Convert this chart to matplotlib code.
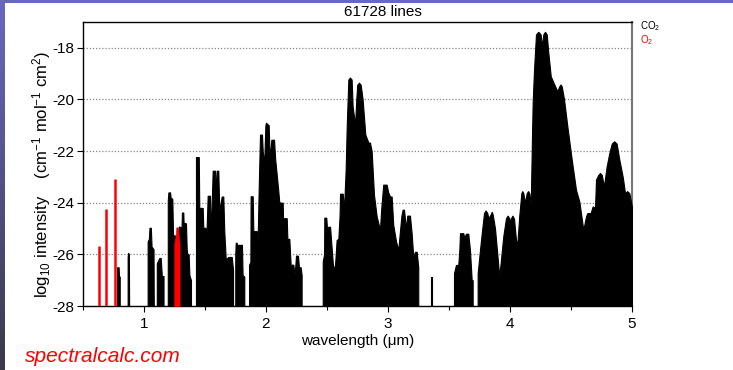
import numpy as np
import matplotlib
matplotlib.use("Agg")
import matplotlib.pyplot as plt
from matplotlib.patches import Rectangle
from matplotlib.ticker import MultipleLocator

plt.rcParams['font.family'] = ['Liberation Sans', 'DejaVu Sans']
plt.rcParams['mathtext.fontset'] = 'custom'
plt.rcParams['mathtext.rm'] = 'Liberation Sans'
plt.rcParams['mathtext.it'] = 'Liberation Sans:italic'
plt.rcParams['mathtext.bf'] = 'Liberation Sans:bold'

# ---------------- data (wavelength in um, log10 intensity) ----------------
title_text = "61728 lines"
x_ticks = [1, 2, 3, 4, 5]
y_ticks = [-28, -26, -24, -22, -20, -18]

# CO2 band envelopes
co2_b1_wl = [0.780, 0.780, 0.792, 0.795, 0.801, 0.801]
co2_b1_val = [-28, -26.50, -26.50, -26.86, -26.86, -28]

co2_b2_wl = [0.866, 0.866, 0.870, 0.876, 0.878]
co2_b2_val = [-28, -26.10, -25.94, -26.00, -28]

co2_b3_wl = [1.030, 1.030, 1.040, 1.045, 1.056, 1.062, 1.078, 1.080]
co2_b3_val = [-28, -25.50, -25.40, -24.97, -24.97, -25.70, -25.80, -28]

co2_b4_wl = [1.105, 1.105, 1.125, 1.137, 1.146, 1.160, 1.160]
co2_b4_val = [-28, -26.35, -26.14, -26.14, -26.84, -26.84, -28]

co2_b5_wl = [1.195, 1.195, 1.200, 1.214, 1.218, 1.232, 1.238, 1.270, 1.287, 1.300,
             1.305, 1.311, 1.322, 1.326, 1.331, 1.344, 1.350, 1.355, 1.366, 1.372,
             1.385, 1.385]
co2_b5_val = [-28, -23.90, -23.60, -23.60, -23.80, -23.85, -25.25, -25.30, -24.92, -24.95,
              -25.50, -24.38, -24.38, -25.00, -24.78, -24.80, -25.80, -25.98, -26.00, -26.80,
              -27.00, -28]

co2_b6_wl = [1.426, 1.426, 1.449, 1.453, 1.467, 1.481, 1.486, 1.503, 1.510, 1.522,
             1.541, 1.547, 1.563, 1.582, 1.589, 1.596, 1.609, 1.617, 1.637, 1.650,
             1.658, 1.670, 1.691, 1.719, 1.730, 1.730]
co2_b6_val = [-28, -22.23, -22.23, -24.20, -24.20, -24.20, -24.97, -24.97, -25.50, -23.73,
              -23.73, -25.30, -22.76, -22.76, -23.60, -22.76, -22.76, -24.30, -23.76, -23.76,
              -25.10, -26.20, -26.10, -26.10, -26.60, -28]

co2_b7_wl = [1.748, 1.748, 1.752, 1.760, 1.765, 1.770, 1.782, 1.786, 1.790, 1.803,
             1.808, 1.822, 1.822]
co2_b7_val = [-28, -26.00, -25.55, -25.55, -25.90, -25.63, -25.63, -25.90, -25.63, -25.63,
              -26.80, -26.86, -28]

co2_b8_wl = [1.861, 1.861, 1.872, 1.874, 1.891, 1.896, 1.910, 1.924, 1.930, 1.940,
             1.951, 1.967, 1.973, 1.985, 1.995, 2.000, 2.022, 2.030, 2.044, 2.066,
             2.075, 2.088, 2.100, 2.109, 2.137, 2.142, 2.148, 2.170, 2.175, 2.191,
             2.202, 2.224, 2.235, 2.246, 2.262, 2.270, 2.284, 2.292, 2.292]
co2_b8_val = [-28, -26.40, -26.30, -23.75, -23.75, -25.10, -25.10, -25.10, -25.80, -23.50,
              -21.36, -21.36, -22.00, -22.50, -21.00, -20.90, -21.00, -22.30, -21.56, -21.56,
              -22.30, -22.92, -23.50, -23.99, -24.00, -25.17, -24.60, -24.60, -25.40, -25.40,
              -26.40, -26.40, -26.80, -26.05, -26.05, -26.50, -26.50, -26.80, -28]

co2_b9_wl = [2.465, 2.465, 2.476, 2.478, 2.494, 2.500, 2.511, 2.525, 2.539, 2.552,
             2.566, 2.579, 2.593, 2.603, 2.607, 2.629, 2.639, 2.653, 2.662, 2.675,
             2.688, 2.702, 2.710, 2.730, 2.740, 2.748, 2.762, 2.776, 2.792, 2.814,
             2.839, 2.852, 2.866, 2.885, 2.907, 2.934, 2.945, 2.961, 2.989, 3.002,
             3.016, 3.030, 3.043, 3.066, 3.084, 3.098, 3.110, 3.120, 3.131, 3.148,
             3.158, 3.180, 3.194, 3.207, 3.221, 3.235, 3.248, 3.248]
co2_b9_val = [-28, -26.28, -26.00, -24.58, -24.58, -25.00, -24.93, -24.93, -25.82, -26.60,
              -26.40, -25.44, -25.40, -24.50, -23.65, -23.65, -24.30, -22.72, -21.00, -19.23,
              -19.15, -19.23, -20.27, -20.98, -20.00, -19.43, -19.35, -19.43, -20.00, -21.36,
              -21.67, -21.67, -22.00, -23.69, -24.53, -25.05, -24.20, -23.30, -23.30, -23.60,
              -23.76, -23.76, -24.86, -25.50, -25.83, -25.10, -24.50, -24.27, -24.27, -25.00,
              -24.50, -24.50, -25.20, -26.09, -25.90, -25.90, -26.50, -28]

co2_b10_wl = [3.356, 3.356, 3.361, 3.361]
co2_b10_val = [-28, -26.86, -26.86, -28]

co2_b11_wl = [3.541, 3.541, 3.557, 3.576, 3.585, 3.590, 3.617, 3.625, 3.639, 3.658,
              3.672, 3.686, 3.694, 3.694]
co2_b11_val = [-28, -26.73, -26.41, -26.41, -25.80, -25.18, -25.18, -25.35, -25.20, -25.20,
               -25.85, -27.00, -27.00, -28]

co2_b12_wl = [3.735, 3.735, 3.754, 3.768, 3.787, 3.800, 3.814, 3.822, 3.842, 3.850,
              3.858, 3.877, 3.896, 3.912, 3.924, 3.945, 3.967, 3.980, 3.994, 4.000,
              4.006, 4.020, 4.033, 4.049, 4.060, 4.076, 4.093, 4.101, 4.109, 4.123,
              4.137, 4.148, 4.158, 4.170, 4.180, 4.186, 4.197, 4.213, 4.232, 4.251,
              4.262, 4.273, 4.287, 4.301, 4.314, 4.334, 4.361, 4.388, 4.404, 4.414,
              4.424, 4.443, 4.470, 4.506, 4.541, 4.568, 4.601, 4.623, 4.634, 4.661,
              4.678, 4.697, 4.705, 4.724, 4.738, 4.752, 4.770, 4.792, 4.814, 4.834,
              4.854, 4.874, 4.896, 4.924, 4.943, 4.960, 4.978, 4.997, 5.000, 5.000]
co2_b12_val = [-28, -26.73, -25.83, -25.20, -24.40, -24.30, -24.40, -24.60, -24.45, -24.35,
               -24.45, -25.00, -26.00, -26.86, -26.30, -25.30, -24.60, -24.50, -24.60, -24.90,
               -24.62, -24.50, -24.62, -25.44, -25.60, -24.50, -23.63, -23.55, -23.63, -24.00,
               -23.63, -23.55, -23.63, -24.10, -21.50, -20.09, -18.84, -17.48, -17.38, -17.48,
               -17.94, -17.48, -17.38, -17.48, -18.19, -19.10, -19.40, -19.68, -19.49, -19.42,
               -19.49, -20.00, -21.04, -22.33, -23.50, -23.95, -25.05, -24.53, -24.40, -24.40,
               -24.14, -24.20, -23.10, -22.92, -22.85, -22.92, -23.37, -22.60, -22.08, -21.71,
               -21.62, -21.71, -22.33, -23.00, -23.63, -23.55, -23.63, -24.10, -24.20, -28]

# O2 lines / band
o2_line_wl = [0.629, 0.686, 0.762]
o2_line_val = [-25.67, -24.24, -23.07]
o2_band_wl = [1.248, 1.248, 1.258, 1.265, 1.278, 1.285, 1.292, 1.292]
o2_band_val = [-28, -25.60, -25.30, -24.95, -24.95, -25.30, -25.60, -28]

co2_bands = [
    (co2_b1_wl, co2_b1_val), (co2_b2_wl, co2_b2_val), (co2_b3_wl, co2_b3_val),
    (co2_b4_wl, co2_b4_val), (co2_b5_wl, co2_b5_val), (co2_b6_wl, co2_b6_val),
    (co2_b7_wl, co2_b7_val), (co2_b8_wl, co2_b8_val), (co2_b9_wl, co2_b9_val),
    (co2_b10_wl, co2_b10_val), (co2_b11_wl, co2_b11_val), (co2_b12_wl, co2_b12_val),
]

# ---------------- figure ----------------
W, H = 733, 370
fig = plt.figure(figsize=(W / 100, H / 100), dpi=100)
fig.patch.set_facecolor('white')

# decorative top band and left gradient strip
fig.patches.append(Rectangle((0, 1 - 3 / H), 1, 3 / H, transform=fig.transFigure,
                             facecolor='#6868c0', edgecolor='none', zorder=0))
ax_bg = fig.add_axes([0, 0, 5 / W, 1 - 3 / H])
top_c = np.array([104, 104, 192]) / 255
bot_c = np.array([58, 58, 72]) / 255
t = np.linspace(0, 1, 200)[:, None]
grad = (top_c[None, :] * (1 - t) + bot_c[None, :] * t)[:, None, :]
ax_bg.imshow(grad, aspect='auto', extent=[0, 1, 0, 1])
ax_bg.set_axis_off()

L, R, T, B = 83, 632, 22, 306
ax = fig.add_axes([L / W, 1 - B / H, (R - L) / W, (B - T) / H])

for wl, val in co2_bands:
    ax.fill_between(wl, val, -28, color='black', lw=0.8, zorder=3)

ax.vlines(o2_line_wl, -28, o2_line_val, colors='red', lw=1.8, zorder=4)
ax.fill_between(o2_band_wl, o2_band_val, -28, color='red', lw=0.4, zorder=4)

ax.set_xlim(0.5, 5)
ax.set_ylim(-28, -17)
ax.set_xticks(x_ticks)
ax.xaxis.set_minor_locator(MultipleLocator(0.5))
ax.set_yticks(y_ticks)
ax.set_yticklabels([str(v) for v in y_ticks])
ax.tick_params(axis='both', which='major', direction='out', length=4, width=0.8,
               labelsize=11, pad=2)
ax.tick_params(axis='x', which='major', pad=4)
ax.tick_params(axis='x', which='minor', direction='out', length=3, width=0.8)
ax.yaxis.grid(True, linestyle=(0, (1, 1.5)), color='#888888', lw=0.9, zorder=1)
ax.set_axisbelow(True)

for s in ['left', 'bottom', 'top']:
    ax.spines[s].set_color('black')
    ax.spines[s].set_linewidth(1.0)
ax.spines['right'].set_color('#777777')
ax.spines['right'].set_linewidth(1.5)

ax.set_xlabel('wavelength (\u03bcm)', fontsize=11, labelpad=2)
fig.text(42 / W, 1 - 174 / H,
         r'log$_{10}$ intensity    (cm$^{-1}$ mol$^{-1}$ cm$^{2}$)',
         rotation=90, ha='center', va='center', fontsize=12)

fig.text(383 / W, 1 - 12 / H, title_text, ha='center', va='center', fontsize=11)

fig.text(640 / W, 1 - 26 / H, r'CO$_2$', ha='left', va='center', fontsize=7, color='black')
fig.text(640 / W, 1 - 40 / H, r'O$_2$', ha='left', va='center', fontsize=7, color='red')

fig.text(25 / W, 1 - 357 / H, 'spectralcalc.com', ha='left', va='center',
         fontsize=15, style='italic', color='red')

fig.savefig('out.png', dpi=100)
